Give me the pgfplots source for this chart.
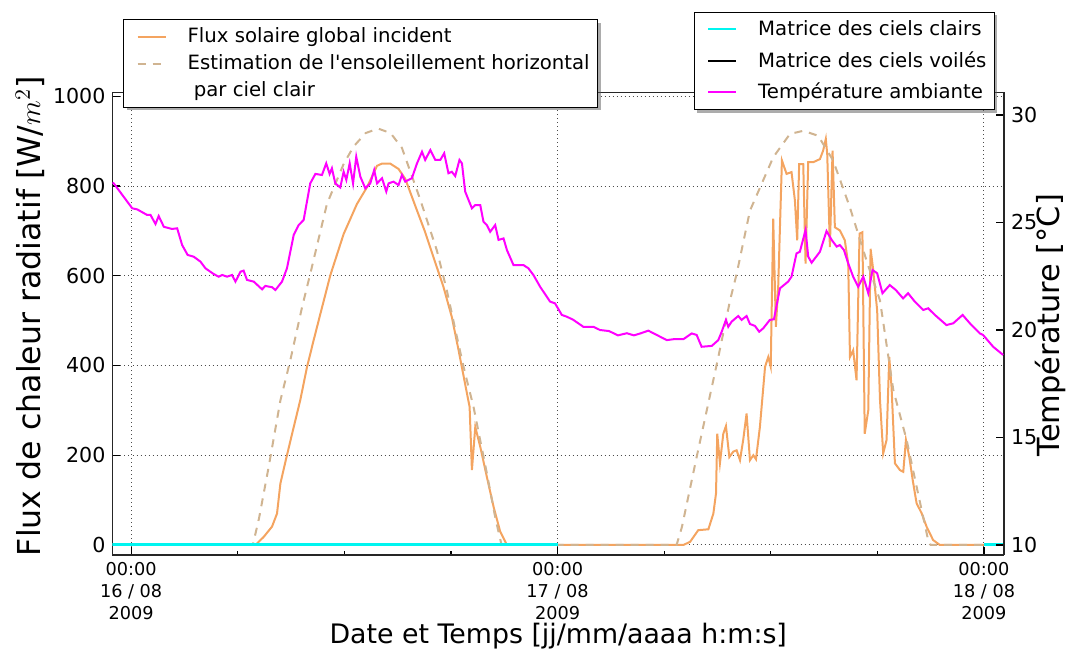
\documentclass[border=0pt]{standalone}
\usepackage{fontspec}
\setmainfont{DejaVu Sans}[Ligatures=TeXOff]
\usepackage{pgfplots}
\pgfplotsset{compat=1.18}
\usetikzlibrary{shadows}

\definecolor{flux}{RGB}{244,164,96}
\definecolor{cielclair}{RGB}{208,180,145}
\definecolor{temp}{RGB}{255,0,255}
\definecolor{matclair}{RGB}{0,245,240}

% flux solaire global incident [W/m2], heures depuis le 16/08 00:00
\pgfplotstableread{
h W
-1.05 0
7.00 0
7.46 18
7.93 41
8.21 70
8.40 137
8.68 185
9.06 248
9.52 323
9.90 397
10.27 456
10.65 515
11.21 601
11.96 693
12.71 760
13.27 797
13.84 845
14.12 850
14.58 850
15.05 838
15.43 816
15.99 756
16.55 697
17.02 641
17.58 575
18.05 508
18.43 434
18.90 338
19.05 308
19.18 167
19.37 263
19.65 219
20.02 152
20.40 85
20.77 30
21.15 0
31.08 0
31.46 7
31.92 33
32.49 35
32.77 70
32.92 115
32.99 248
33.14 182
33.33 248
33.48 265
33.67 196
33.89 208
34.08 211
34.27 189
34.45 234
34.64 293
34.83 189
35.02 200
35.17 191
35.39 263
35.68 397
35.86 419
36.00 397
36.14 727
36.29 486
36.42 575
36.63 857
36.89 827
37.17 831
37.36 768
37.49 679
37.60 849
37.83 849
37.96 627
38.11 853
38.39 853
38.77 860
38.95 879
39.10 905
39.18 871
39.33 664
39.48 879
39.61 708
39.89 701
40.17 679
40.36 627
40.46 419
40.64 434
40.83 367
41.00 694
41.16 697
41.29 248
41.49 300
41.62 660
41.75 619
41.99 523
42.15 323
42.33 204
42.52 234
42.67 419
42.80 352
42.99 182
43.27 167
43.46 163
43.61 234
43.80 196
43.99 145
44.21 93
44.49 71
44.77 41
45.14 11
45.52 0
49.13 0
}\fluxtab

% estimation par ciel clair
\pgfplotstableread{
h W
-1.05 0
6.85 0
7.20 60
7.74 174
8.40 322
8.96 412
9.62 530
10.08 604
11.02 760
11.96 849
12.52 888
13.20 918
13.90 928
14.60 918
15.24 885
16.27 770
17.21 656
17.77 567
18.30 470
18.71 397
19.27 308
20.02 160
20.50 60
20.85 0
30.70 0
31.00 40
31.83 196
33.05 419
33.71 545
34.08 604
34.83 745
36.14 864
37.08 916
37.83 923
38.67 912
39.51 857
40.45 753
41.39 634
42.15 545
42.90 345
43.65 234
44.21 130
44.86 11
45.00 0
49.13 0
}\cieltab

% temperature ambiante [degC]
\pgfplotstableread{
h T
-1.05 26.85
-0.98 26.82
0.06 25.66
0.34 25.61
0.90 25.35
1.09 25.35
1.37 24.93
1.55 25.30
1.84 24.80
2.30 24.70
2.59 24.73
2.87 23.95
3.18 23.49
3.52 23.41
3.90 23.18
4.18 22.87
4.65 22.60
4.93 22.48
5.12 22.56
5.40 22.48
5.68 22.56
5.87 22.25
6.15 22.71
6.33 22.76
6.52 22.33
6.90 22.25
7.37 21.89
7.55 22.05
7.93 21.99
8.12 21.86
8.49 22.25
8.77 22.87
9.15 24.42
9.43 24.88
9.71 25.12
10.08 26.82
10.37 27.26
10.74 27.21
10.98 27.75
11.17 27.26
11.30 27.52
11.49 26.82
11.77 26.63
11.96 27.36
12.11 26.98
12.30 27.75
12.49 26.82
12.67 28.06
12.90 27.13
13.18 26.59
13.46 26.82
13.68 27.44
13.84 26.82
14.12 27.06
14.36 26.44
14.49 26.82
14.77 26.90
15.05 26.74
15.24 27.21
15.43 26.90
15.80 27.06
16.09 27.75
16.37 28.29
16.55 27.91
16.84 28.37
17.12 27.91
17.40 27.91
17.62 28.22
17.86 27.29
18.05 27.36
18.24 27.16
18.48 27.91
18.62 27.75
18.80 26.44
19.18 25.66
19.37 25.81
19.65 25.81
19.83 25.04
20.02 24.88
20.21 24.57
20.49 24.88
20.68 24.19
20.96 24.26
21.15 23.72
21.52 23.02
22.08 23.02
22.36 22.87
22.64 22.56
23.02 22.01
23.58 21.32
23.86 21.24
24.24 20.70
24.52 20.62
24.89 20.47
25.45 20.15
26.02 20.15
26.39 20.00
26.90 19.95
27.40 19.75
27.90 19.85
28.30 19.75
28.66 19.84
29.11 19.97
29.58 19.77
30.15 19.53
30.52 19.57
31.08 19.57
31.55 19.84
31.83 19.77
32.11 19.22
32.68 19.26
33.05 19.53
33.24 19.92
33.48 20.47
33.61 20.15
33.80 20.39
34.17 20.65
34.36 20.47
34.64 20.65
34.83 20.28
35.11 20.19
35.35 19.92
35.58 20.08
35.95 20.47
36.18 20.50
36.52 21.94
36.98 22.25
37.17 22.48
37.45 23.56
37.64 23.64
37.96 24.65
38.11 23.41
38.30 23.13
38.77 23.64
39.14 24.60
39.43 24.19
39.71 23.88
39.89 23.95
40.12 23.72
40.36 23.10
40.64 22.48
40.92 22.01
41.21 22.48
41.49 21.71
41.73 22.79
41.99 22.64
42.29 21.71
42.70 22.09
43.04 21.86
43.45 21.47
43.73 21.71
44.11 21.32
44.58 20.93
44.86 21.01
45.24 20.70
45.89 20.23
46.27 20.31
46.80 20.70
47.21 20.31
47.77 19.84
47.95 19.77
48.52 19.22
49.08 18.84
}\temptab

\pgfplotsset{
  common/.style={
    scale only axis,
    width=445.75pt, height=231.25pt,
    xmin=-1.05, xmax=49.13,
    tick align=inside,
    major tick length=4pt, minor tick length=2pt,
    every tick/.style={black, line width=0.6pt},
    axis line style={black!85, line width=0.75pt},
    /pgf/number format/assume math mode=true,
    /pgf/number format/1000 sep={},
    yticklabel style={font=\fontsize{10.3}{12}\selectfont},
    legend cell align=left,
    % handle drawn on the basic layer so the box shadow is not repeated on it
    legend image code/.code={%
      \pgfpathrectangle{\pgfqpoint{-3pt}{-1pt}}{\pgfqpoint{28pt}{2pt}}%
      \pgfusepath{use as bounding box}%
      \begin{scope}[##1]
        \pgfpathmoveto{\pgfqpoint{0pt}{0pt}}%
        \pgfpathlineto{\pgfqpoint{14pt}{0pt}}%
        \pgfusepath{stroke}%
      \end{scope}},
    legend style={draw=black, line width=0.6pt, fill=white,
      font=\fontsize{9.85}{12}\selectfont,
      drop shadow={shadow xshift=1.5pt, shadow yshift=-1.5pt, fill=black!65},
      inner xsep=4pt, inner ysep=2pt, column sep=0pt,
      nodes={inner xsep=0pt}},
  }
}

\begin{document}
\begin{tikzpicture}
\begin{axis}[common,
  ymin=-22.3, ymax=1008.4,
  axis y line*=left,
  ytick={0,200,400,600,800,1000},
  xtick={0,24,48},
  minor xtick={6,12,18,30,36,42},
  xtick pos=bottom,
  xticklabels={{00:00\\16 / 08\\2009},{00:00\\17 / 08\\2009},{00:00\\18 / 08\\2009}},
  xticklabel style={align=center, font=\fontsize{8.85}{11.2}\selectfont},
  xmajorgrids, ymajorgrids,
  major grid style={black!70, line width=0.5pt, dash pattern=on 0.5pt off 1.5pt},
  xlabel={Date et Temps [jj/mm/aaaa h:m:s]},
  xlabel style={at={(axis description cs:0.5,0)}, anchor=base, yshift=-44.5pt,
    font=\fontsize{13.4}{15}\selectfont},
  ylabel={Flux de chaleur radiatif [W/$m^2$]},
  ylabel style={at={(axis description cs:-0.0925,0.516)}, anchor=center,
    font=\fontsize{15.8}{18}\selectfont},
  legend style={at={(axis description cs:0.0118,1.159)}, anchor=north west, row sep=0.5pt},
]
\coordinate (bl) at (rel axis cs:0,0);
\coordinate (tr) at (rel axis cs:1,1);
\addplot[flux, line width=1pt] table[x=h, y=W] {\fluxtab};
\addlegendentry{Flux solaire global incident}
\addplot[cielclair, line width=1pt, dash pattern=on 4pt off 3.5pt] table[x=h, y=W] {\cieltab};
\addlegendentry{Estimation de l'ensoleillement horizontal}
\addlegendimage{empty legend}
\addlegendentry{\ par ciel clair}
\addplot[black, line width=0.8pt, forget plot] coordinates {(-1.05,0) (24,0)};
\addplot[black, line width=0.8pt, forget plot] coordinates {(48,0) (49.13,0)};
\addplot[matclair, line width=1.5pt, forget plot] coordinates {(-1.05,0) (24,0)};
\addplot[matclair, line width=1.5pt, forget plot] coordinates {(48,0) (49.13,0)};
\end{axis}

\begin{axis}[common,
  ymin=9.535, ymax=31.047,
  axis y line*=right,
  axis x line=none,
  ytick={10,15,20,25,30},
  ylabel={Température [°C]},
  ylabel style={at={(axis description cs:1.0516,0.497)}, anchor=center,
    font=\fontsize{15.2}{17}\selectfont},
  legend style={at={(axis description cs:0.9899,1.1747)}, anchor=north east, row sep=2.5pt},
]
\addlegendimage{matclair, line width=1pt}
\addlegendentry{Matrice des ciels clairs}
\addlegendimage{black, line width=1pt}
\addlegendentry{Matrice des ciels voilés}
\addplot[temp, line width=1pt] table[x=h, y=T] {\temptab};
\addlegendentry{Température ambiante}
\end{axis}

\pgfresetboundingbox
\path ([xshift=-56.25pt,yshift=-48pt]bl) rectangle ([xshift=34pt,yshift=46.25pt]tr);
\end{tikzpicture}
\end{document}
